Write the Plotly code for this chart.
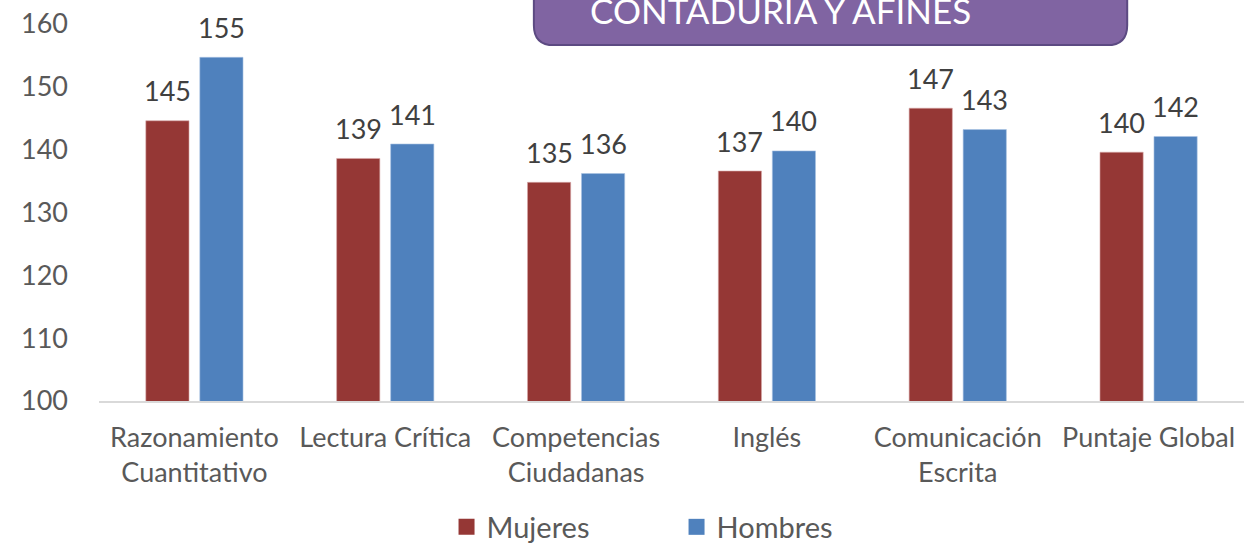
import plotly.graph_objects as go

categories = ["Razonamiento<br>Cuantitativo", "Lectura Crítica", "Competencias<br>Ciudadanas",
              "Inglés", "Comunicación<br>Escrita", "Puntaje Global"]
mujeres = [144.6, 138.6, 134.8, 136.6, 146.6, 139.6]
hombres = [154.7, 140.9, 136.2, 139.8, 143.2, 142.1]
series_names = ["Mujeres", "Hombres"]
series_colors = ["#953735", "#4F81BD"]
title_text = "CONTADURIA Y AFINES"

FONT = "Lato"
GRAY = "#595959"
LABEL = "#404040"

fig = go.Figure()
for name, vals, col, edge in ((series_names[0], mujeres, series_colors[0], "#d9a9a9"),
                              (series_names[1], hombres, series_colors[1], "#a9c3e3")):
    fig.add_trace(go.Bar(name=name, x=categories, y=vals, showlegend=False,
                         marker=dict(color=col, line=dict(color=edge, width=0.6))))
# legend entries with larger square symbols
for name, col in zip(series_names, series_colors):
    fig.add_trace(go.Scatter(name=name, x=[None], y=[None], mode="markers",
                             marker=dict(symbol="square", size=18, color=col)))

# data labels
for vals, shift in ((mujeres, -27), (hombres, 27)):
    for c, v in zip(categories, vals):
        fig.add_annotation(x=c, y=v, text=f"{round(v):d}", showarrow=False,
                           xshift=shift, yshift=30, yanchor="middle",
                           font=dict(family=FONT, size=27, color=LABEL))

# title box (rounded rectangle, cut off at top)
x0, x1 = 0.3798, 0.898
y0, y1 = 0.944, 1.16
rx, ry = 0.0175, 0.053
path = (f"M {x0+rx},{y0} L {x1-rx},{y0} Q {x1},{y0} {x1},{y0+ry} L {x1},{y1} "
        f"L {x0},{y1} L {x0},{y0+ry} Q {x0},{y0} {x0+rx},{y0} Z")
fig.add_shape(type="path", path=path, xref="paper", yref="paper",
              fillcolor="#8064A2", line=dict(color="#5C4A82", width=2), layer="above")
fig.add_annotation(x=0.5948, y=1.036, xref="paper", yref="paper", text=title_text,
                   showarrow=False, yanchor="middle", xanchor="center",
                   font=dict(family=FONT, size=35, color="white"))

fig.update_layout(
    width=1246, height=543,
    margin=dict(l=99, r=2, t=24, b=142),
    paper_bgcolor="white", plot_bgcolor="white",
    barmode="group", bargap=0.434, bargroupgap=0.2,
    font=dict(family=FONT, color=GRAY, size=27),
    showlegend=True,
    legend=dict(orientation="h", x=0.5044, xanchor="center",
                yref="container", y=0.0295, yanchor="middle",
                font=dict(family=FONT, size=29, color=GRAY), entrywidth=185,
                bgcolor="rgba(0,0,0,0)"),
    xaxis=dict(showline=True, linecolor="#D9D9D9", linewidth=1.5, showgrid=False,
               ticks="", ticklabelstandoff=12,
               tickfont=dict(family=FONT, size=27, color=GRAY)),
    yaxis=dict(range=[100, 160], dtick=10, showgrid=False, zeroline=False, showline=False,
               ticks="", ticklabelstandoff=30, tickfont=dict(family=FONT, size=27, color=GRAY)),
)

fig.write_html("out.html", config={"displayModeBar": False},
               post_script="document.body.style.margin='0';")
